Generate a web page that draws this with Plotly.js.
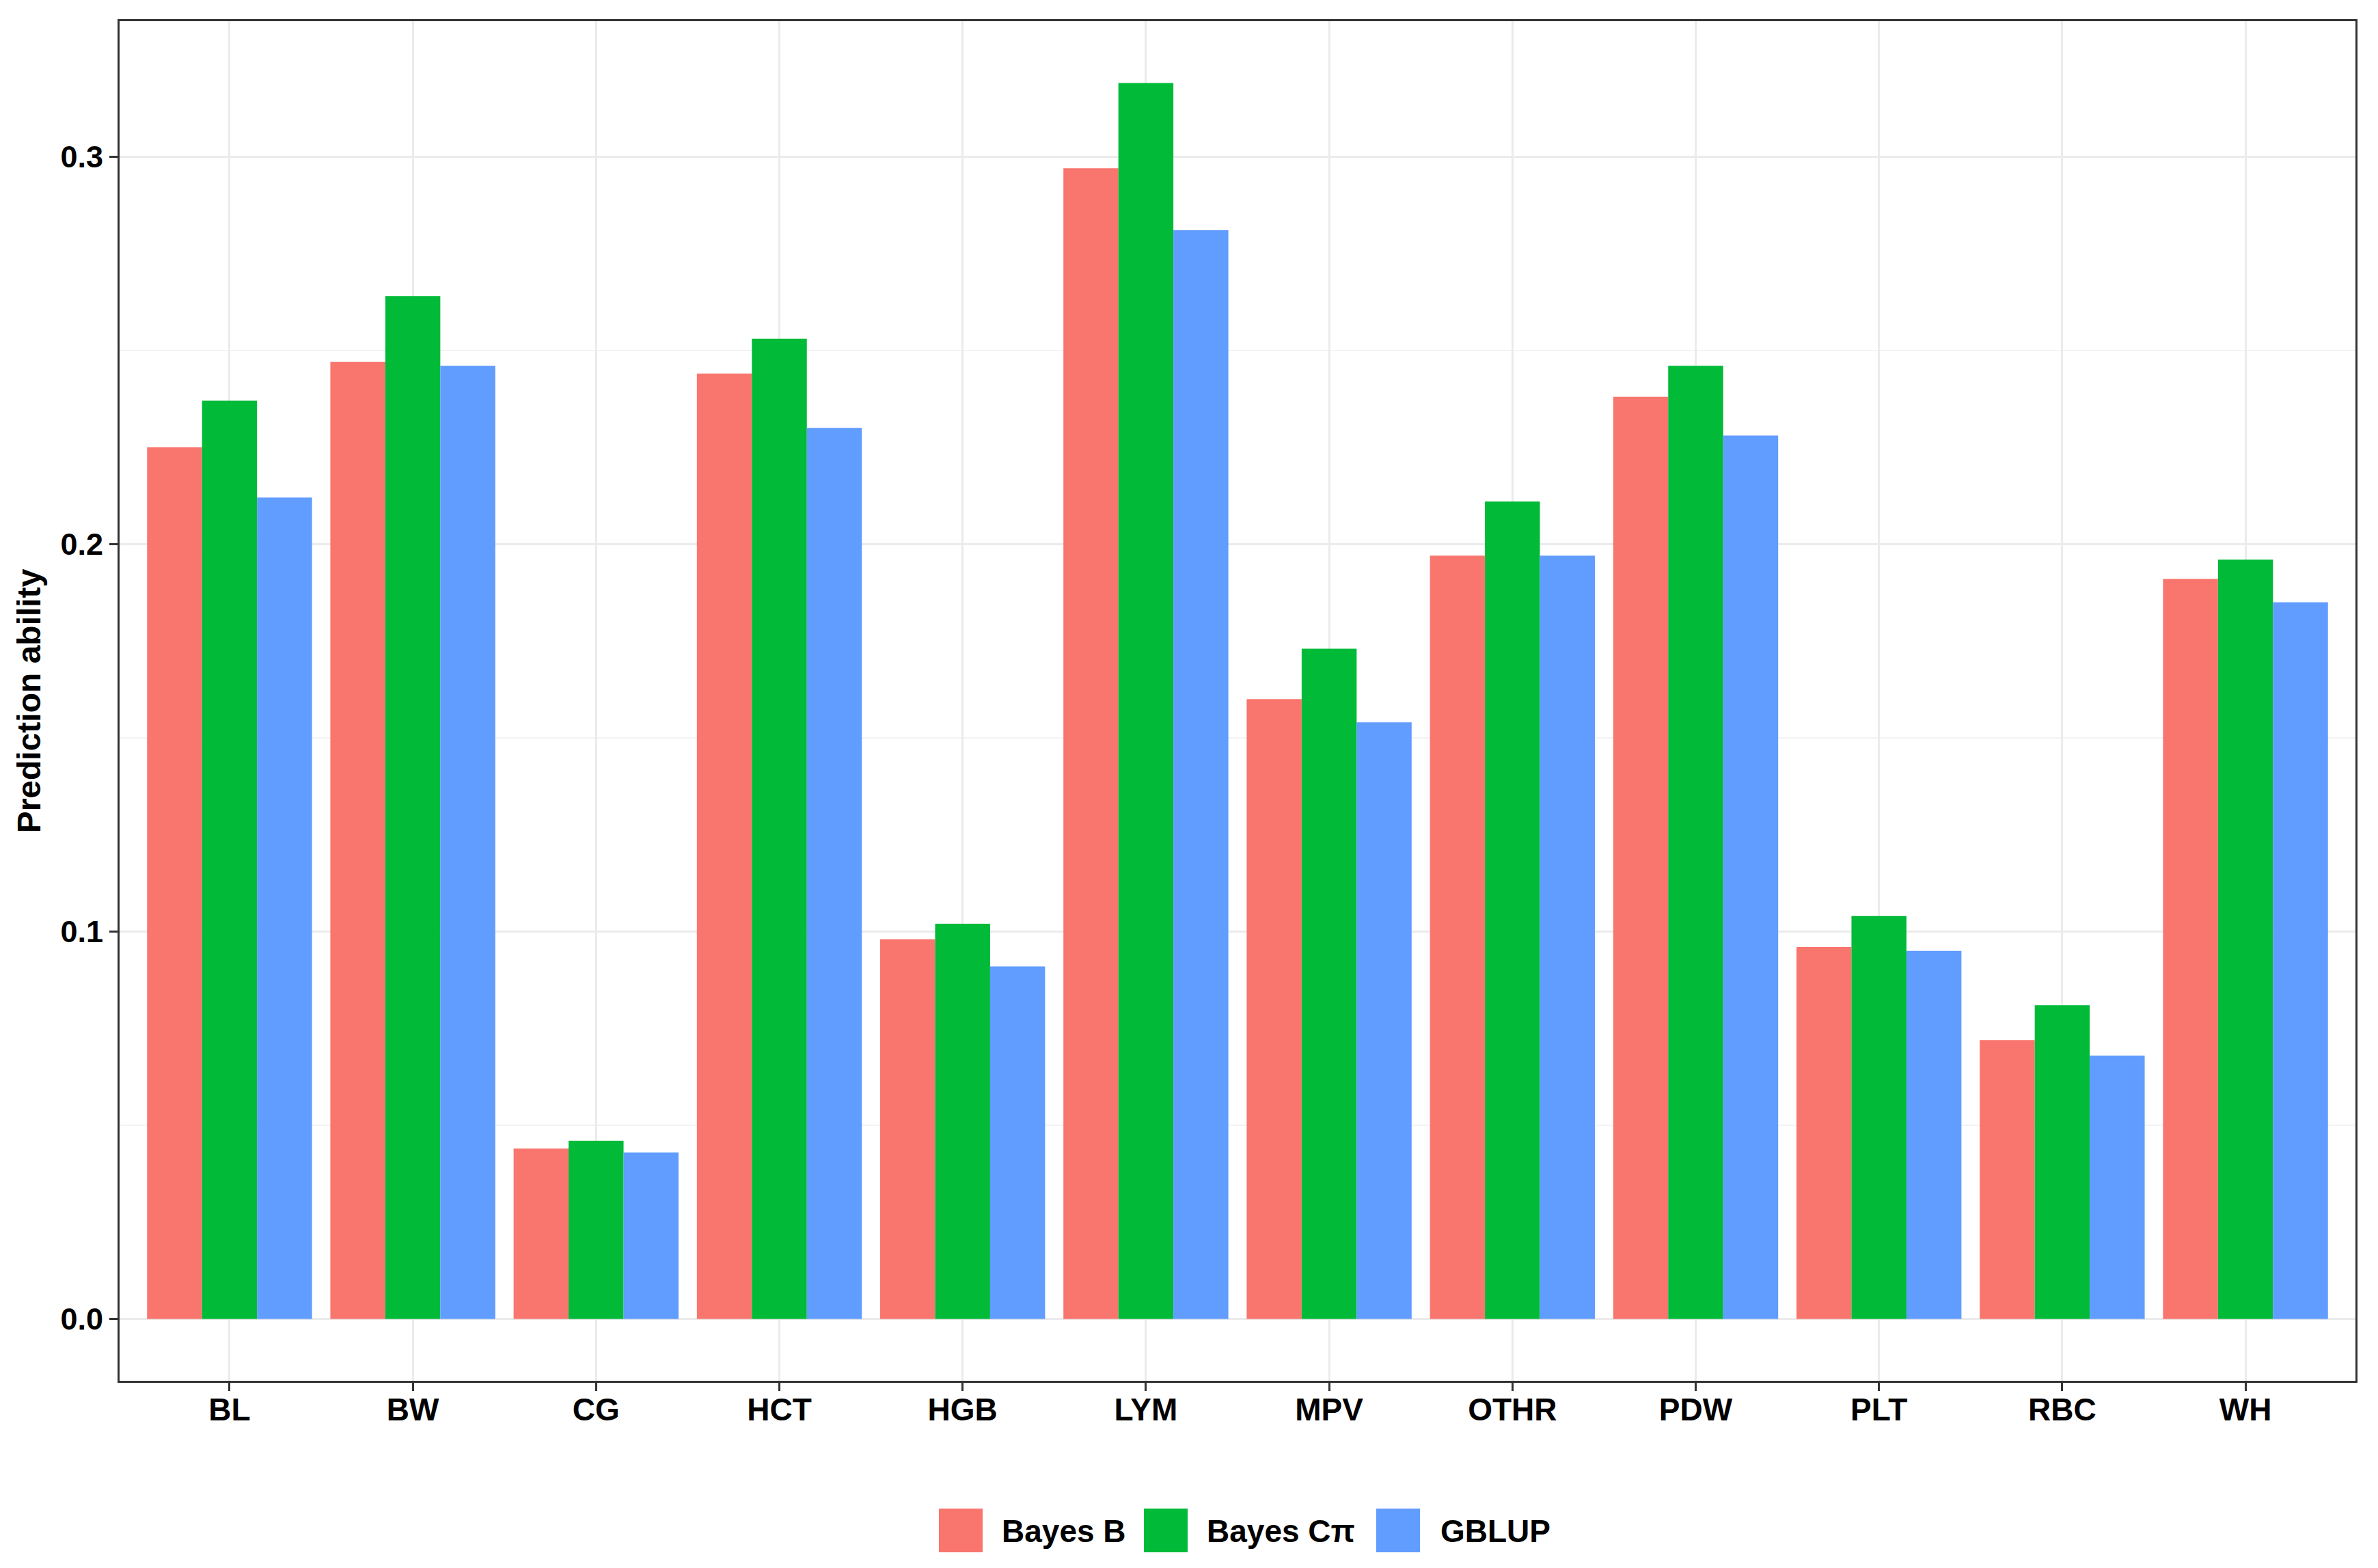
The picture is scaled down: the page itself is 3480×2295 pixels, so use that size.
<!DOCTYPE html>
<html>
<head>
<meta charset="utf-8">
<script src="https://cdn.plot.ly/plotly-3.0.1.min.js"></script>
<style>html,body{margin:0;padding:0;background:#fff;}#chart{width:3480px;height:2295px;}</style>
</head>
<body>
<div id="chart"></div>
<script>
// ---- data ----
const traits = ["BL","BW","CG","HCT","HGB","LYM","MPV","OTHR","PDW","PLT","RBC","WH"];
const methodNames = ["Bayes B","Bayes C\u03c0","GBLUP"];
const bayesB   = [0.225,0.247,0.044,0.244,0.098,0.297,0.160,0.197,0.238,0.096,0.072,0.191];
const bayesCpi = [0.237,0.264,0.046,0.253,0.102,0.319,0.173,0.211,0.246,0.104,0.081,0.196];
const gblup    = [0.212,0.246,0.043,0.230,0.091,0.281,0.154,0.197,0.228,0.095,0.068,0.185];
const yTickVals = [0.0,0.1,0.2,0.3];
const yTickText = ["0.0","0.1","0.2","0.3"];
const colors = ["#F8766D","#00BA38","#619CFF"];

// ---- layout geometry ----
const W = 3480, H = 2295;
const M = {l:175, r:33, t:31, b:274};
const plotW = W - M.l - M.r, plotH = H - M.t - M.b;
const px2x = p => (p - M.l) / plotW;
const py2y = p => (H - M.b - p) / plotH;

const series = [bayesB, bayesCpi, gblup];
const traces = series.map((vals, i) => ({
  type: "bar",
  x: traits,
  y: vals,
  name: methodNames[i],
  marker: {color: colors[i], line: {width: 0}},
  showlegend: false,
  hoverinfo: "x+y+name"
}));

const yMax = Math.max(...bayesB, ...bayesCpi, ...gblup);
const pad = yMax * 0.05;

const font = {family: "Liberation Sans, Arial, sans-serif", color: "#000000"};

// custom legend (large keys like ggplot)
const keyX = [1374, 1674, 2014];
const textX = [1464, 1764, 2106];
const keyW = 64, keyTop = 2208, keyBot = 2272, textY = 2241;
const shapes = [], annotations = [];
methodNames.forEach((nm, i) => {
  shapes.push({type: "rect", xref: "paper", yref: "paper",
    x0: px2x(keyX[i]), x1: px2x(keyX[i] + keyW),
    y0: py2y(keyBot), y1: py2y(keyTop),
    fillcolor: colors[i], line: {width: 0}});
  annotations.push({xref: "paper", yref: "paper",
    x: px2x(textX[i]), y: py2y(textY), xanchor: "left", yanchor: "middle",
    text: "<b>" + nm + "</b>", showarrow: false,
    font: Object.assign({}, font, {size: 46})});
});

const layout = {
  width: W, height: H,
  margin: M,
  paper_bgcolor: "#ffffff",
  plot_bgcolor: "#ffffff",
  barmode: "group",
  bargap: 0.1,
  bargroupgap: 0,
  showlegend: false,
  font: font,
  xaxis: {
    type: "category",
    range: [-0.6, traits.length - 1 + 0.6],
    showgrid: true, gridcolor: "#EBEBEB", gridwidth: 3,
    showline: true, linecolor: "#333333", linewidth: 3, mirror: true,
    ticks: "outside", ticklen: 12, tickwidth: 3, tickcolor: "#333333",
    ticklabelstandoff: -12,
    tickfont: Object.assign({}, font, {size: 46, weight: "bold"}),
    zeroline: false
  },
  yaxis: {
    range: [-pad, yMax + pad],
    tickvals: yTickVals, ticktext: yTickText,
    showgrid: true, gridcolor: "#EBEBEB", gridwidth: 3,
    minor: {dtick: 0.05, tick0: 0, showgrid: true, gridcolor: "#F3F3F3", gridwidth: 1.5, ticks: ""},
    showline: true, linecolor: "#333333", linewidth: 3, mirror: true,
    ticks: "outside", ticklen: 12, tickwidth: 3, tickcolor: "#333333",
    tickfont: Object.assign({}, font, {size: 45, weight: "bold"}),
    zeroline: false,
    title: {text: "<b>Prediction ability</b>", font: Object.assign({}, font, {size: 48}), standoff: 14}
  },
  shapes: shapes,
  annotations: annotations
};

Plotly.newPlot("chart", traces, layout, {staticPlot: true, displayModeBar: false});
</script>
</body>
</html>
